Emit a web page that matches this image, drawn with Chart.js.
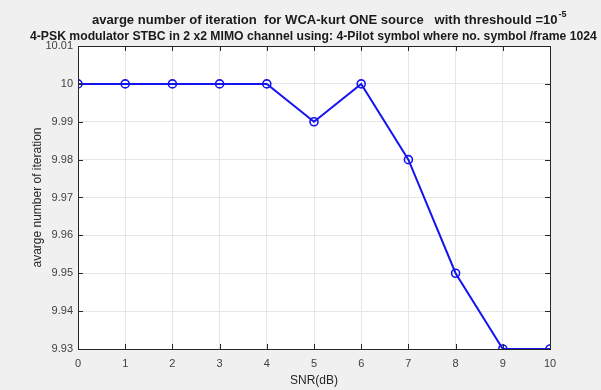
<!DOCTYPE html>
<html>
<head>
<meta charset="utf-8">
<script src="https://cdn.jsdelivr.net/npm/chart.js@4"></script>
<style>
  html, body { margin: 0; padding: 0; background: #f0f0f0; }
  #wrap { width: 601px; height: 390px; }
</style>
</head>
<body>
<div id="wrap"><canvas id="grafica" width="601" height="390"></canvas></div>
<script>
// datos
const snr = [0, 1, 2, 3, 4, 5, 6, 7, 8, 9, 10];
const iteraciones = [10, 10, 10, 10, 10, 9.99, 10, 9.98, 9.95, 9.93, 9.93];
const yTicks = [9.93, 9.94, 9.95, 9.96, 9.97, 9.98, 9.99, 10, 10.01];
const tituloLinea1 = "avarge number of iteration  for WCA-kurt ONE source   with threshould =10";
const tituloExp = "-5";
const tituloLinea2 = "4-PSK modulator STBC in 2 x2 MIMO channel using: 4-Pilot symbol where no. symbol /frame 1024";

// escribe un texto ajustando el tamaño para que ocupe el ancho pedido
function textoAjustado(ctx, texto, x, y, ancho) {
    ctx.font = "bold 12px 'Liberation Sans', Arial";
    const size = 12 * ancho / ctx.measureText(texto).width;
    ctx.font = "bold " + size.toFixed(2) + "px 'Liberation Sans', Arial";
    ctx.fillText(texto, x, y);
    return ctx.measureText(texto).width;
}

// fondo blanco del area + marco y marcas hacia adentro (estilo matlab)
const marco = {
    id: "marco",
    beforeDraw(chart) {
        const a = chart.chartArea, ctx = chart.ctx;
        ctx.save();
        ctx.fillStyle = "#ffffff";
        ctx.fillRect(a.left, a.top, a.right - a.left, a.bottom - a.top);
        ctx.restore();
    },
    afterDatasetsDraw(chart) {
        const a = chart.chartArea, ctx = chart.ctx;
        const x = chart.scales.x, y = chart.scales.y;
        ctx.save();
        ctx.strokeStyle = "#262626";
        ctx.lineWidth = 1;
        ctx.beginPath();
        x.ticks.forEach(t => {
            const px = Math.round(x.getPixelForValue(t.value)) + 0.5;
            ctx.moveTo(px, a.bottom); ctx.lineTo(px, a.bottom - 5);
            ctx.moveTo(px, a.top); ctx.lineTo(px, a.top + 5);
        });
        y.ticks.forEach(t => {
            const py = Math.round(y.getPixelForValue(t.value)) + 0.5;
            ctx.moveTo(a.left, py); ctx.lineTo(a.left + 5, py);
            ctx.moveTo(a.right, py); ctx.lineTo(a.right - 5, py);
        });
        ctx.stroke();
        ctx.strokeRect(Math.round(a.left) + 0.5, Math.round(a.top) + 0.5,
            Math.round(a.right - a.left), Math.round(a.bottom - a.top));
        ctx.restore();
    },
    afterDraw(chart) {
        // titulo de dos lineas con exponente
        const ctx = chart.ctx;
        ctx.save();
        ctx.fillStyle = "#1a1a1a";
        ctx.textBaseline = "middle";
        ctx.textAlign = "left";
        const w = textoAjustado(ctx, tituloLinea1, 92, 20, 466);
        ctx.font = "bold 9px 'Liberation Sans', Arial";
        ctx.fillText(tituloExp, 92 + w + 1, 15);
        textoAjustado(ctx, tituloLinea2, 30, 37, 567);
        ctx.restore();
    }
};

document.addEventListener("DOMContentLoaded", () => {
    const ctx = document.getElementById("grafica");

    new Chart(ctx, {
        type: "line",
        data: {
            datasets: [{
                data: snr.map((s, i) => ({ x: s, y: iteraciones[i] })),
                borderColor: "#1414f0",
                borderWidth: 2,
                pointRadius: 4,
                pointBorderWidth: 1.6,
                pointBackgroundColor: "rgba(0,0,0,0)",
                pointBorderColor: "#1414f0",
                tension: 0
            }]
        },
        plugins: [marco],
        options: {
            responsive: false,
            animation: false,
            layout: { padding: { left: 0, right: 51, top: 46, bottom: 0 } },
            plugins: {
                legend: { display: false },
                tooltip: { enabled: false },
                title: { display: false }
            },
            scales: {
                x: {
                    type: "linear",
                    min: 0, max: 10,
                    ticks: {
                        stepSize: 1,
                        color: "#404040",
                        padding: 8,
                        font: { family: "Liberation Sans, Arial", size: 11 }
                    },
                    grid: { color: "#e6e6e6", drawTicks: false },
                    border: { display: false },
                    title: {
                        display: true,
                        text: "SNR(dB)",
                        color: "#262626",
                        padding: { top: 0, bottom: 2 },
                        font: { family: "Liberation Sans, Arial", size: 12 }
                    },
                    afterFit(scale) { scale.height = 41; }
                },
                y: {
                    min: 9.93, max: 10.01,
                    afterBuildTicks(scale) {
                        scale.ticks = yTicks.map(v => ({ value: v }));
                    },
                    ticks: {
                        color: "#404040",
                        padding: 5,
                        font: { family: "Liberation Sans, Arial", size: 11 },
                        callback: v => String(Number(v.toFixed(2)))
                    },
                    grid: { color: "#e6e6e6", drawTicks: false },
                    border: { display: false },
                    title: {
                        display: true,
                        text: "avarge number of iteration",
                        color: "#262626",
                        padding: { top: 30, bottom: 0 },
                        font: { family: "Liberation Sans, Arial", size: 12 }
                    },
                    afterFit(scale) { scale.width = 78; }
                }
            }
        }
    });
});
</script>
</body>
</html>
